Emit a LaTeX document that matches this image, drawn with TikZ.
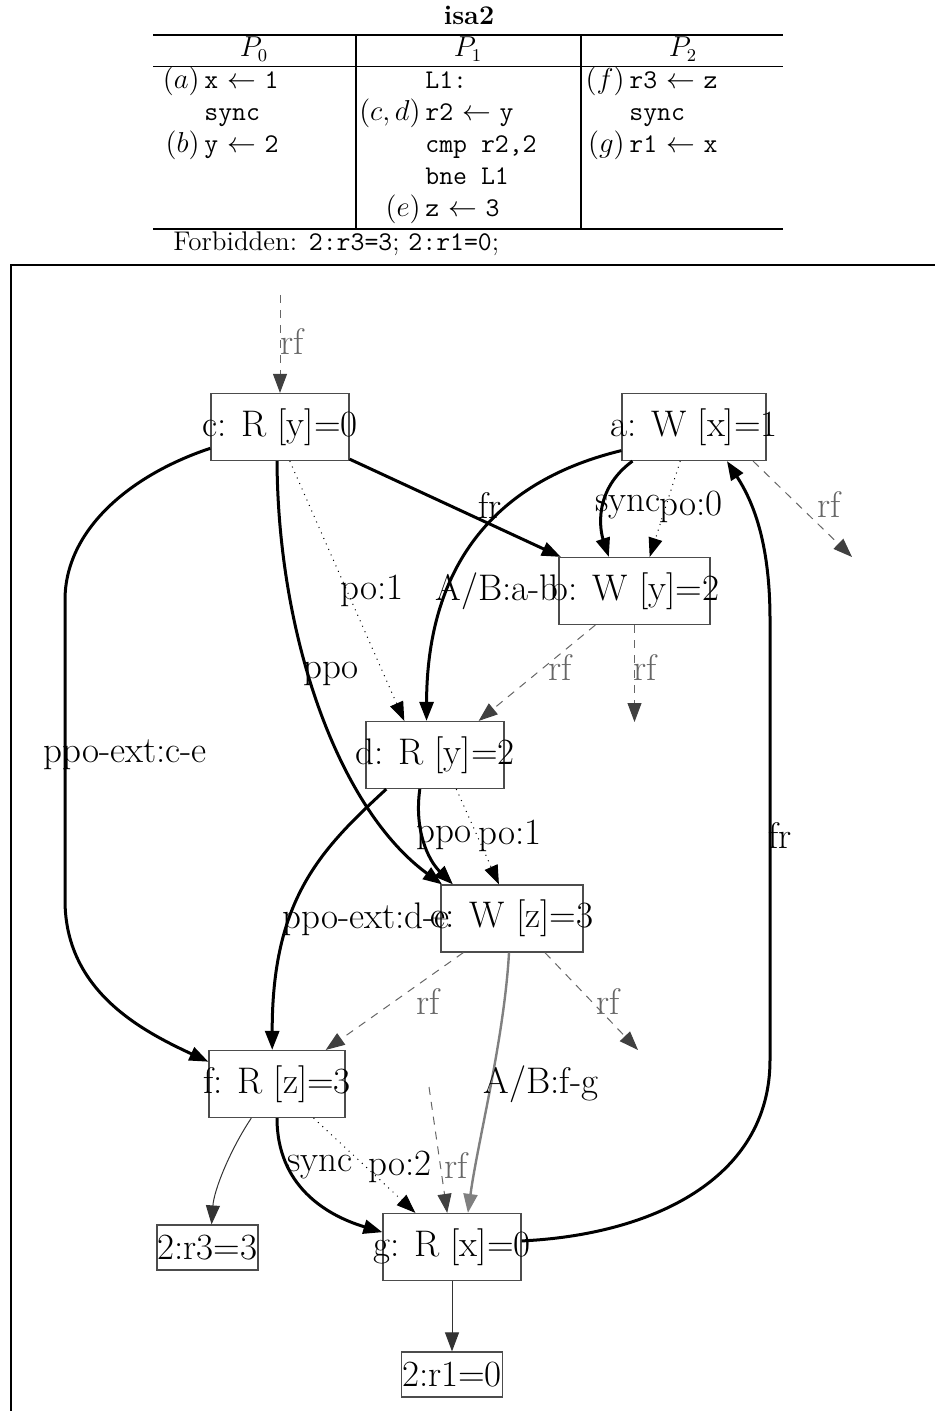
\documentclass[tikz,border=0pt]{standalone}
\usepackage{fontspec}
\usetikzlibrary{arrows.meta}
\newcommand{\gfont}{\fontsize{18.5}{22}\selectfont}
\newcommand{\tfont}{\fontsize{13.5}{16}\selectfont}
\tikzset{
  evt/.style={
    draw=black!70,
    line width=0.6pt,
    inner xsep=-15pt,
    inner ysep=0pt,
    minimum height=33.5pt,
    font=\gfont
  },
  res/.style={evt,minimum width=50.5pt,minimum height=22.5pt},
  lbl/.style={inner sep=0pt,font=\gfont},
  rflbl/.style={lbl,text=black!60},
  tbl/.style={inner sep=0pt,font=\tfont},
  evtip/.style={-{Triangle[length=9.5pt,width=7pt]}},
  hard/.style={evtip,line width=1.5pt},
  soft/.style={evtip,line width=0.5pt,dash pattern=on 0.5pt off 2.5pt},
  rfarrow/.style={-{Triangle[length=9.5pt,width=7pt,color=black!75]},
    draw=black!60,line width=0.5pt,dash pattern=on 4pt off 3.5pt},
  abarrow/.style={evtip,draw=black!50,line width=1.2pt},
  outarrow/.style={evtip,draw=black!80,line width=0.5pt}
}

\begin{document}
\begin{tikzpicture}[x=0.5pt,y=-0.5pt]
  \useasboundingbox (0,0) rectangle (935,1411);
  % program table
  \node[tbl,font=\tfont\bfseries,anchor=base] (title) at (469,25) {isa2};
  \draw[line width=1pt] (153,35) -- (783,35);
  \draw[line width=0.5pt] (153,67) -- (783,67);
  \draw[line width=1pt] (153,229) -- (783,229);
  \draw[line width=1pt] (356,35) -- (356,229);
  \draw[line width=1pt] (581,35) -- (581,229);
  \node[tbl,anchor=base] (p0) at (254,57) {$P_0$};
  \node[tbl,anchor=base] (p1) at (468,57) {$P_1$};
  \node[tbl,anchor=base] (p2) at (683,57) {$P_2$};
  \node[tbl,anchor=base east] (la) at (200,89) {$(a)$};
  \node[tbl,anchor=base west] (ia) at (204,89) {\texttt{x} $\leftarrow$ \texttt{1}};
  \node[tbl,anchor=base west] (s0) at (204,121) {\texttt{sync}};
  \node[tbl,anchor=base east] (lb) at (200,153) {$(b)$};
  \node[tbl,anchor=base west] (ib) at (204,153) {\texttt{y} $\leftarrow$ \texttt{2}};
  \node[tbl,anchor=base west] (l1) at (425,89) {\texttt{L1:}};
  \node[tbl,anchor=base east] (lcd) at (421,121) {$(c,d)$};
  \node[tbl,anchor=base west] (icd) at (425,121) {\texttt{r2} $\leftarrow$ \texttt{y}};
  \node[tbl,anchor=base west] (cmp) at (425,153) {\texttt{cmp r2,2}};
  \node[tbl,anchor=base west] (bne) at (425,185) {\texttt{bne L1}};
  \node[tbl,anchor=base east] (le) at (421,217) {$(e)$};
  \node[tbl,anchor=base west] (ie) at (425,217) {\texttt{z} $\leftarrow$ \texttt{3}};
  \node[tbl,anchor=base east] (lf) at (625,89) {$(f)$};
  \node[tbl,anchor=base west] (if) at (629,89) {\texttt{r3} $\leftarrow$ \texttt{z}};
  \node[tbl,anchor=base west] (s2) at (629,121) {\texttt{sync}};
  \node[tbl,anchor=base east] (lg) at (625,153) {$(g)$};
  \node[tbl,anchor=base west] (ig) at (629,153) {\texttt{r1} $\leftarrow$ \texttt{x}};
  \node[tbl,anchor=base west] (forb) at (173,251)
    {Forbidden: \texttt{2:r3=3}; \texttt{2:r1=0};};
  % frame
  \draw[line width=1.2pt] (935,265) -- (11,265) -- (11,1411);
  % events
  \node[evt,minimum width=69pt] (c) at (280,427) {c: R [y]=0};
  \node[evt,minimum width=72pt] (a) at (694,427) {a: W [x]=1};
  \node[evt,minimum width=75.5pt] (b) at (634.5,591) {b: W [y]=2};
  \node[evt,minimum width=69pt] (d) at (435,755) {d: R [y]=2};
  \node[evt,minimum width=71pt] (e) at (512,918.5) {e: W [z]=3};
  \node[evt,minimum width=68pt] (f) at (277,1084) {f: R [z]=3};
  \node[evt,minimum width=69pt] (g) at (452,1247) {g: R [x]=0};
  \node[res] (r3) at (207.5,1247.5) {2:r3=3};
  \node[res] (r1) at (452,1374.5) {2:r1=0};
  \coordinate (rfc) at (280,295);
  \coordinate (rfa) at (852,557);
  \coordinate (rfb) at (634.5,722);
  \coordinate (rfe) at (638,1050);
  \coordinate (rfg) at (429,1087);
  % edges
  \draw[rfarrow] (rfc) -- (c.north);
  \draw[hard] (c.-95) .. controls (278,640) and (340,810) .. (e.154);
  \draw[soft] (c.-74) -- (d.132);
  \draw[hard] (c) -- (b);
  \draw[hard] (c.197) .. controls (130,475) and (65,530) .. (65,600)
    -- (65,900) .. controls (65,990) and (140,1030) .. (f.162);
  \draw[hard] (a.198) .. controls (500,480) and (427,560) .. (d.104);
  \draw[hard] (a.209) .. controls (593,490) and (600,530) .. (b.127);
  \draw[soft] (a.-112) -- (b.66);
  \draw[rfarrow] (a.-30) -- (rfa);
  \draw[hard] (g.5) .. controls (650,1235) and (770,1180) .. (770,1060)
    -- (770,620) .. controls (770,540) and (752,500) .. (a.-46);
  \draw[rfarrow] (b.-139) -- (d.38);
  \draw[rfarrow] (b.south) -- (rfb);
  \draw[hard] (d.-114) .. controls (414,830) and (428,860) .. (e.150);
  \draw[soft] (d.-58) -- (e.111);
  \draw[hard] (d.215) .. controls (320,850) and (272,900) .. (f.98);
  \draw[rfarrow] (e.215) -- (f.35);
  \draw[rfarrow] (e.-46) -- (rfe);
  \draw[abarrow] (e.-95) .. controls (504,1040) and (478,1140) .. (g.65);
  \draw[hard] (f.south) .. controls (277,1185) and (325,1215) .. (g.168);
  \draw[soft] (f.-43) -- (g.137);
  \draw[rfarrow] (rfg) -- (g.98);
  \draw[outarrow] (f.233) .. controls (230,1150) and (214,1190) .. (r3.80);
  \draw[outarrow] (g) -- (r1);
  % edge labels
  \node[rflbl] (lrfc) at (292,342) {rf};
  \node[lbl] (lppoce) at (331,674) {ppo};
  \node[lbl] (lpocd) at (372,591) {po:1};
  \node[lbl] (labab) at (497,591) {A/B:a-b};
  \node[lbl] (lfrcb) at (490,506) {fr};
  \node[lbl] (lsyncab) at (628,507) {sync};
  \node[lbl] (lpoab) at (691,507) {po:0};
  \node[rflbl] (lrfa) at (829,505) {rf};
  \node[lbl] (lce) at (125,755) {ppo-ext:c-e};
  \node[rflbl] (lrfbd) at (560,668) {rf};
  \node[rflbl] (lrfb) at (645,668) {rf};
  \node[lbl] (lppode) at (444,838) {ppo};
  \node[lbl] (lpode) at (510,836) {po:1};
  \node[lbl] (lfrga) at (780,836) {fr};
  \node[lbl] (lde) at (366,919) {ppo-ext:d-e};
  \node[rflbl] (lrfef) at (428,1002) {rf};
  \node[rflbl] (lrfe) at (608,1002) {rf};
  \node[lbl] (labfg) at (541,1084) {A/B:f-g};
  \node[lbl] (lsyncfg) at (320,1167) {sync};
  \node[lbl] (lpofg) at (400,1167) {po:2};
  \node[rflbl] (lrfg) at (456,1165) {rf};
\end{tikzpicture}
\end{document}
